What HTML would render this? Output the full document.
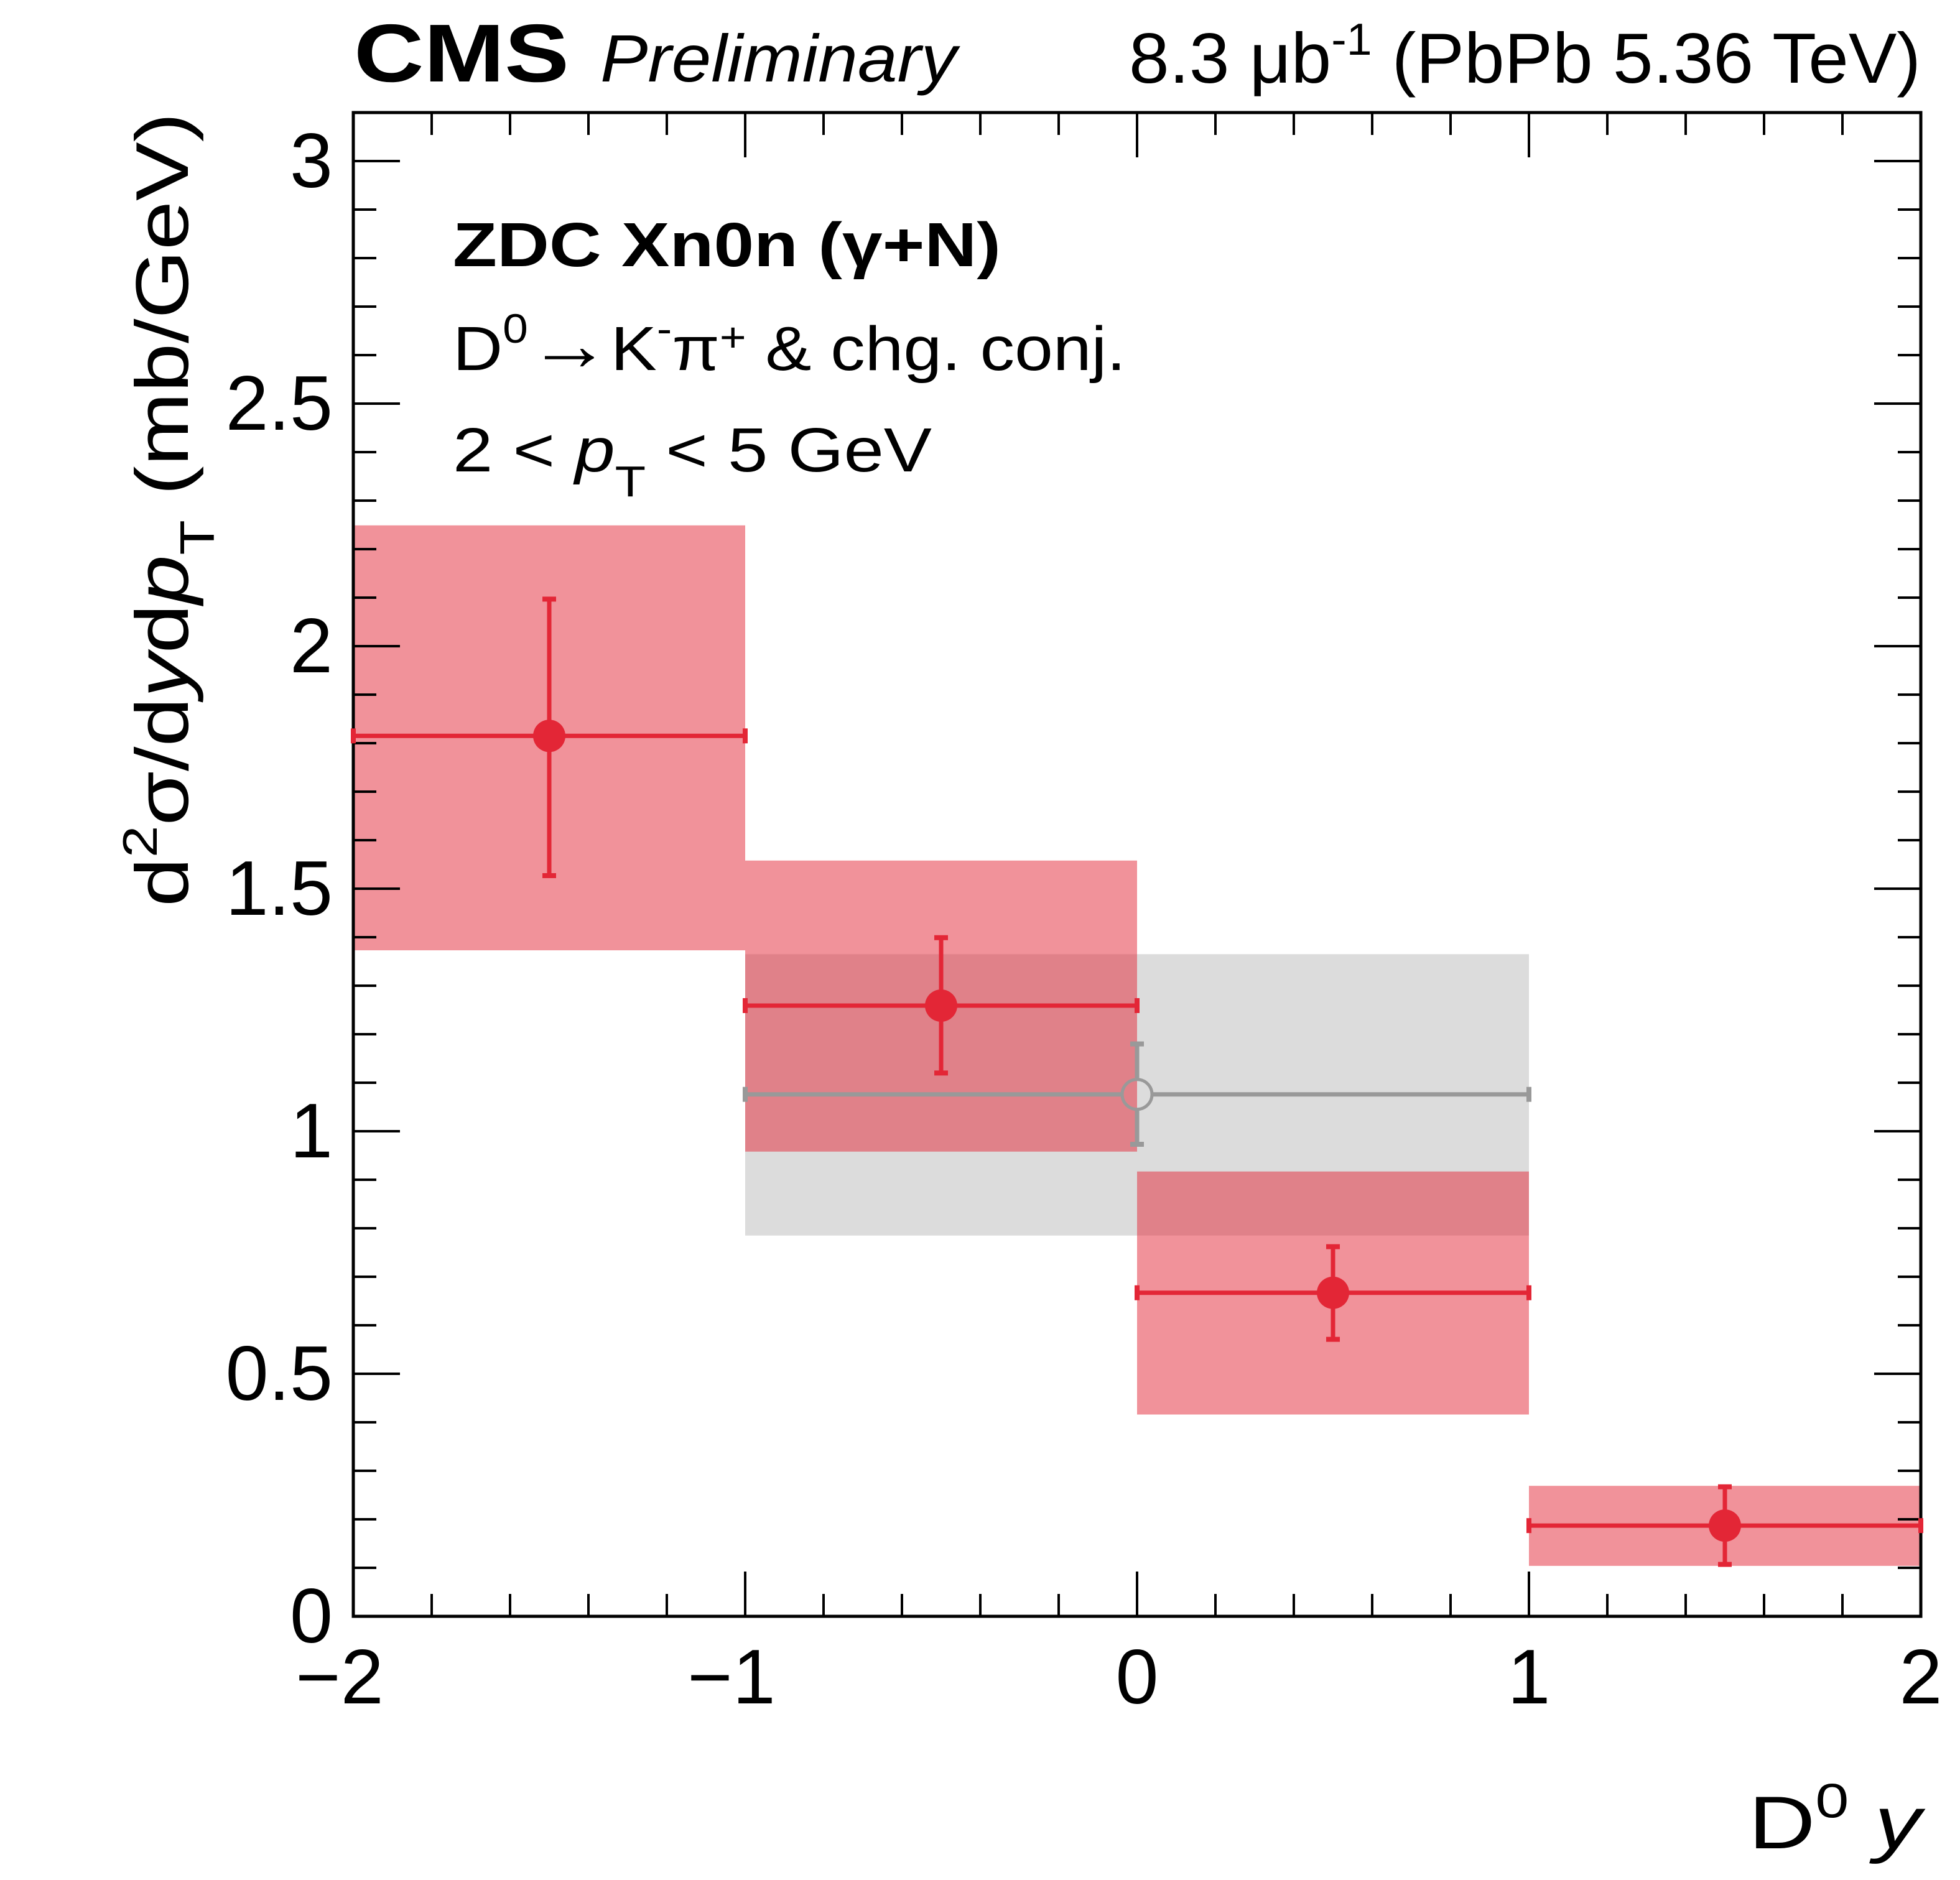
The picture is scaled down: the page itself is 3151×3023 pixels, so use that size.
<!DOCTYPE html>
<html><head><meta charset="utf-8"><style>
html,body{margin:0;padding:0;background:#fff;}
svg{display:block;font-family:"Liberation Sans",Arial,sans-serif;}
</style></head><body>
<svg id="chart" width="3151" height="3023" viewBox="0 0 3151 3023" xmlns="http://www.w3.org/2000/svg">
<g id="bands"></g>
<g id="frame"></g>
<g id="marks"></g>
<g id="labels">
<text x="569" y="131" font-size="132" font-weight="bold" textLength="346" lengthAdjust="spacingAndGlyphs">CMS</text>
<text x="965" y="131" font-size="108" font-style="italic" textLength="573" lengthAdjust="spacingAndGlyphs">Preliminary</text>
<text x="1815" y="133" font-size="114" textLength="1273" lengthAdjust="spacingAndGlyphs">8.3 μb<tspan dy="-45" font-size="72">-1</tspan><tspan dy="45"> (PbPb 5.36 TeV)</tspan></text>
<text x="728" y="428" font-size="100" font-weight="bold" textLength="881" lengthAdjust="spacingAndGlyphs">ZDC Xn0n (γ+N)</text>
<text x="728" y="595" font-size="100" textLength="1082" lengthAdjust="spacingAndGlyphs">D<tspan dy="-44" font-size="66">0</tspan><tspan dy="44" font-size="120">→</tspan>K<tspan dy="-44" font-size="66">-</tspan><tspan dy="44">π</tspan><tspan dy="-30" font-size="66">+</tspan><tspan dy="30"> &amp; chg. conj.</tspan></text>
<text x="728" y="758" font-size="100" textLength="770" lengthAdjust="spacingAndGlyphs">2 &lt; <tspan font-style="italic">p</tspan><tspan dy="40" font-size="70">T</tspan><tspan dy="-40"> &lt; 5 GeV</tspan></text>
<text x="2811" y="2972" font-size="120" textLength="277" lengthAdjust="spacingAndGlyphs">D<tspan dy="-50" font-size="78">0</tspan><tspan dy="50">  </tspan><tspan font-style="italic">y</tspan></text>
<text transform="translate(302,181) rotate(-90)" font-size="120" text-anchor="end" textLength="1277" lengthAdjust="spacingAndGlyphs">d<tspan dy="-50" font-size="78">2</tspan><tspan dy="50">σ/d</tspan><tspan font-style="italic">y</tspan>d<tspan font-style="italic">p</tspan><tspan dy="42" font-size="78">T</tspan><tspan dy="-42"> (mb/GeV)</tspan></text>
</g>
</svg>
<script>
const binLo = [-2, -1, 0, 1];
const binHi = [-1, 0, 1, 2];
const values = [1.815, 1.259, 0.667, 0.187];
const statUp = [2.097, 1.399, 0.762, 0.267];
const statDn = [1.527, 1.12, 0.571, 0.107];
const systUp = [2.249, 1.558, 0.917, 0.269];
const systDn = [1.373, 0.958, 0.416, 0.104];
const refLo = [-1];
const refHi = [1];
const refValues = [1.076];
const refStatUp = [1.18];
const refStatDn = [0.973];
const refSystUp = [1.365];
const refSystDn = [0.785];
const xTicks = [-2, -1, 0, 1, 2];
const xTickLabels = ["\u22122", "\u22121", "0", "1", "2"];
const yTicks = [0, 0.5, 1, 1.5, 2, 2.5, 3];
const yTickLabels = ["0", "0.5", "1", "1.5", "2", "2.5", "3"];

const L = 568, R = 3088, T = 181, B = 2599;
const xMin = -2, xMax = 2, yMin = 0, yMax = 3.0;
const yUnit = (B - 259) / 3;
function X(v) { return L + (v - xMin) / (xMax - xMin) * (R - L); }
function Y(v) { return B - (v - yMin) * yUnit; }
const NS = "http://www.w3.org/2000/svg";
function mk(tag, parent, attrs) {
  const e = document.createElementNS(NS, tag);
  for (const k in attrs) e.setAttribute(k, attrs[k]);
  parent.appendChild(e);
  return e;
}
const bands = document.getElementById('bands');
const frame = document.getElementById('frame');
const marks = document.getElementById('marks');

for (let i = 0; i < refValues.length; i++) {
  const r = mk('rect', bands, {x: X(refLo[i]), y: Y(refSystUp[i]), width: X(refHi[i]) - X(refLo[i]), height: Y(refSystDn[i]) - Y(refSystUp[i]), fill: '#dcdcdc'});
  
  
}
for (let i = 0; i < values.length; i++) {
  const r = mk('rect', bands, {x: X(binLo[i]), y: Y(systUp[i]), width: X(binHi[i]) - X(binLo[i]), height: Y(systDn[i]) - Y(systUp[i]), fill: 'rgb(227,38,54)', 'fill-opacity': 0.5});
  
  
}

const box = mk('rect', frame, {x: L, y: T, width: R - L, height: B - T, fill: 'none', stroke: '#000', 'stroke-width': 5});


for (let k = 0; k <= 20; k++) {
  const v = xMin + k * 0.2;
  const len = (k % 5 === 0) ? 72 : 36;
  const x = X(v);
  const t1 = mk('line', frame, {x1: x, x2: x, y1: B, y2: B - len, stroke: '#000', 'stroke-width': 4});
  
  
  const t2 = mk('line', frame, {x1: x, x2: x, y1: T, y2: T + len, stroke: '#000', 'stroke-width': 4});
  
  
}
for (let k = 0; k <= 30; k++) {
  const v = k * 0.1;
  const len = (k % 5 === 0) ? 75 : 37;
  const y = Y(v);
  const t1 = mk('line', frame, {x1: L, x2: L + len, y1: y, y2: y, stroke: '#000', 'stroke-width': 4});
  
  
  const t2 = mk('line', frame, {x1: R, x2: R - len, y1: y, y2: y, stroke: '#000', 'stroke-width': 4});
  
  
}
for (let i = 0; i < xTicks.length; i++) {
  const t = mk('text', frame, {x: X(xTicks[i]) - (xTicks[i] < 0 ? 22 : 0), y: 2739, 'font-size': 124, 'text-anchor': 'middle'});
  t.textContent = xTickLabels[i];
  
  
}
for (let i = 0; i < yTicks.length; i++) {
  const t = mk('text', frame, {x: 535, y: Y(yTicks[i]) + 42, 'font-size': 124, 'text-anchor': 'end'});
  t.textContent = yTickLabels[i];
  
  
}

function drawPoint(lo, hi, v, su, sd, color, open, name) {
  const g = mk('g', marks, {});
  
  
  const xc = X((lo + hi) / 2), yc = Y(v), r = 24;
  mk('line', g, {x1: X(lo), x2: open ? xc - r : X(hi), y1: yc, y2: yc, stroke: color, 'stroke-width': 7});
  if (open) mk('line', g, {x1: xc + r, x2: X(hi), y1: yc, y2: yc, stroke: color, 'stroke-width': 7});
  mk('line', g, {x1: X(lo), x2: X(lo), y1: yc - 12, y2: yc + 12, stroke: color, 'stroke-width': 8});
  mk('line', g, {x1: X(hi), x2: X(hi), y1: yc - 12, y2: yc + 12, stroke: color, 'stroke-width': 8});
  mk('line', g, {x1: xc, x2: xc, y1: Y(su), y2: open ? yc - r : Y(sd), stroke: color, 'stroke-width': 7});
  if (open) mk('line', g, {x1: xc, x2: xc, y1: yc + r, y2: Y(sd), stroke: color, 'stroke-width': 7});
  mk('line', g, {x1: xc - 11, x2: xc + 11, y1: Y(su), y2: Y(su), stroke: color, 'stroke-width': 8});
  mk('line', g, {x1: xc - 11, x2: xc + 11, y1: Y(sd), y2: Y(sd), stroke: color, 'stroke-width': 8});
  if (open) mk('circle', g, {cx: xc, cy: yc, r: r, fill: 'none', stroke: color, 'stroke-width': 5});
  else mk('circle', g, {cx: xc, cy: yc, r: r + 2, fill: color});
}
for (let i = 0; i < refValues.length; i++) {
  drawPoint(refLo[i], refHi[i], refValues[i], refStatUp[i], refStatDn[i], '#999999', true, 'reference-point');
}
for (let i = 0; i < values.length; i++) {
  drawPoint(binLo[i], binHi[i], values[i], statUp[i], statDn[i], '#e32636', false, 'data-point-bin-' + (i + 1));
}
</script>
</body></html>
